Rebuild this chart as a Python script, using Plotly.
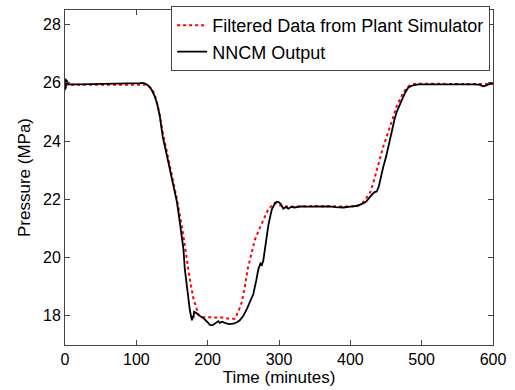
import plotly.graph_objects as go

# NNCM output (black solid)
t_nncm = [0, 0.5, 1, 2, 5, 20, 50, 80, 91, 100, 105, 109, 113, 117, 121, 125, 129, 133, 137, 142,
          147, 152, 157, 161, 164, 166, 168, 171, 173, 175, 177, 178, 179, 180, 181, 184, 189, 195,
          200, 203, 207, 212, 215, 217, 220, 225, 230, 236, 241, 245, 250, 255, 260, 264, 268, 271,
          274, 276, 278, 280, 283, 285, 288, 290, 294, 297, 300, 303, 306, 310, 313, 317, 322, 330,
          340, 350, 360, 370, 380, 390, 400, 410, 414, 418, 421, 423, 426, 430, 434, 437, 440, 442,
          446, 450, 453, 458, 462, 465, 468, 472, 476, 481, 486, 490, 495, 500, 520, 550, 575, 582,
          586, 590, 594, 600]
p_nncm = [25.75, 26.15, 25.8, 26.1, 25.95, 25.95, 25.96, 25.96, 25.98, 25.98, 25.99, 26.0, 25.97,
          25.9, 25.78, 25.58, 25.3, 24.85, 24.15, 23.6, 23.0, 22.45, 21.9, 21.2, 20.7, 20.3, 19.6,
          19.0, 18.5, 18.2, 17.95, 17.85, 18.0, 17.92, 18.14, 18.1, 18.0, 17.9, 17.78, 17.69, 17.68,
          17.78, 17.82, 17.76, 17.8, 17.75, 17.72, 17.73, 17.78, 17.85, 18.0, 18.24, 18.5, 18.75,
          19.2, 19.6, 19.8, 19.75, 19.9, 20.3, 20.8, 21.1, 21.45, 21.66, 21.85, 21.92, 21.9, 21.82,
          21.68, 21.74, 21.68, 21.74, 21.72, 21.76, 21.75, 21.76, 21.75, 21.76, 21.73, 21.72, 21.75,
          21.78, 21.82, 21.86, 21.9, 21.95, 22.05, 22.15, 22.25, 22.27, 22.45, 22.7, 23.1, 23.45,
          23.8, 24.4, 24.75, 25.0, 25.2, 25.4, 25.62, 25.83, 25.9, 25.93, 25.95, 25.95, 25.96, 25.95,
          25.95, 25.93, 25.88, 25.9, 25.95, 26.0]

# Filtered data from plant simulator (red dotted)
t_filt = [0, 50, 100, 110, 113, 117, 122, 127, 132, 137, 147, 157, 165, 171, 176, 180, 184, 187,
          190, 200, 220, 230, 238, 243, 248, 252, 256, 261, 266, 271, 276, 281, 285, 290, 294, 298,
          305, 320, 350, 400, 410, 414, 420, 424, 428, 432, 437, 441, 446, 451, 456, 461, 465, 470,
          474, 479, 484, 490, 500, 550, 600]
p_filt = [25.93, 25.93, 25.95, 25.95, 25.93, 25.88, 25.8, 25.5, 25.0, 24.3, 23.1, 22.0, 20.9, 19.9,
          19.1, 18.6, 18.25, 18.05, 17.96, 17.95, 17.94, 17.9, 17.9, 18.15, 18.48, 19.0, 19.6, 20.1,
          20.6, 20.9, 21.2, 21.45, 21.66, 21.8, 21.88, 21.82, 21.76, 21.75, 21.77, 21.75, 21.78,
          21.83, 21.95, 22.1, 22.24, 22.55, 23.0, 23.4, 23.8, 24.15, 24.5, 24.85, 25.2, 25.45, 25.66,
          25.82, 25.93, 25.96, 25.97, 25.96, 25.96]

x_ticks = [0, 100, 200, 300, 400, 500, 600]
y_ticks = [18, 20, 22, 24, 26, 28]

fig = go.Figure()
fig.add_trace(go.Scatter(x=t_filt, y=p_filt, mode="lines", name="Filtered Data from Plant Simulator",
                         line=dict(color="#ff0000", width=2, dash="dot")))
fig.add_trace(go.Scatter(x=t_nncm, y=p_nncm, mode="lines", name="NNCM Output",
                         line=dict(color="#000000", width=1.8)))

font = "Liberation Sans, Arial, sans-serif"
axis_common = dict(showgrid=False, zeroline=False, showline=True, linecolor="#444444", linewidth=1,
                   mirror="ticks", ticks="inside", ticklen=5, tickcolor="#444444", automargin=False,
                   tickfont=dict(family=font, size=16, color="#000"))
fig.update_xaxes(range=[0, 600], tickvals=x_ticks,
                 title=dict(text="Time (minutes)", font=dict(family=font, size=17, color="#000"), standoff=2),
                 **axis_common)
fig.update_yaxes(range=[17, 28.5], tickvals=y_ticks,
                 title=dict(text="Pressure (MPa)", font=dict(family=font, size=17, color="#000"), standoff=8),
                 **axis_common)

fig.update_layout(
    width=515, height=390,
    margin=dict(l=65, r=22, t=10, b=45, autoexpand=False),
    paper_bgcolor="white", plot_bgcolor="white",
    showlegend=True,
    legend=dict(x=0.248, y=1.012, xanchor="left", yanchor="top", bgcolor="white",
                bordercolor="#444444", borderwidth=1,
                font=dict(family=font, size=18, color="#000"),
                tracegroupgap=0, itemwidth=30),
)

fig.write_html("out.html")
